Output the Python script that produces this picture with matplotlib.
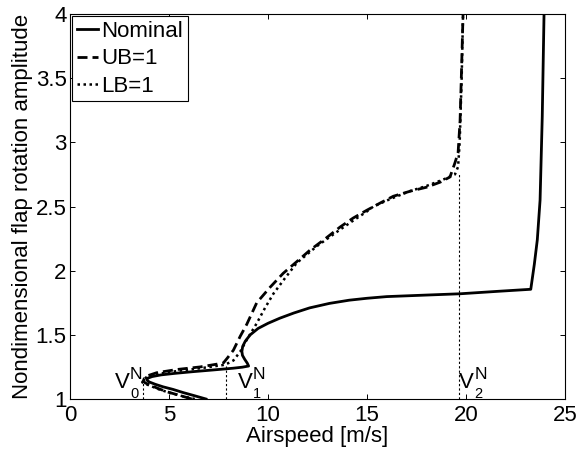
import matplotlib
matplotlib.use('Agg')
import matplotlib.pyplot as plt

plt.rcParams['font.family'] = ['Liberation Sans', 'DejaVu Sans']

# curves (x = airspeed, y = amplitude), traced along the branch
nominal_x = [6.87, 6.3, 5.72, 5.2, 4.7, 4.3, 4.0, 3.88, 3.92, 4.15, 4.6, 5.3, 6.2, 7.2, 8.24, 8.7,
             9.02, 8.95, 8.82, 8.71, 8.68, 8.72, 8.85, 9.1, 9.5, 10.0, 10.6, 11.3, 12.1, 13.1,
             14.1, 15.0, 16.0, 18.0, 19.7, 21.7, 23.27, 23.45, 23.6, 23.74, 23.85, 23.94]
nominal_y = [1.0, 1.025, 1.05, 1.075, 1.095, 1.115, 1.133, 1.148, 1.162, 1.175, 1.188, 1.2, 1.213,
             1.226, 1.24, 1.248, 1.257, 1.28, 1.31, 1.34, 1.37, 1.41, 1.45, 1.5, 1.55, 1.59, 1.63,
             1.67, 1.71, 1.745, 1.77, 1.785, 1.798, 1.81, 1.82, 1.84, 1.855, 2.05, 2.24, 2.55, 3.2,
             4.0]

ub_x = [6.15, 5.5, 4.88, 4.4, 4.04, 3.8, 3.7, 3.75, 3.95, 4.38, 5.4, 6.57, 7.74, 7.95, 8.25,
        8.6, 8.92, 9.43, 10.1, 10.77, 11.45, 12.12, 12.9, 13.64, 14.3, 14.98, 15.7, 16.33, 17.2,
        18.0, 18.7, 19.19, 19.44, 19.6, 19.7, 19.78, 19.85]
ub_y = [1.0, 1.03, 1.057, 1.085, 1.11, 1.125, 1.14, 1.16, 1.183, 1.205, 1.23, 1.25, 1.28, 1.32,
        1.38, 1.49, 1.58, 1.75, 1.87, 1.98, 2.07, 2.16, 2.25, 2.34, 2.41, 2.47, 2.53, 2.58, 2.62,
        2.65, 2.69, 2.73, 2.84, 2.92, 3.17, 3.6, 4.0]

lb_x = [6.3, 5.6, 5.0, 4.5, 4.1, 3.8, 3.65, 3.7, 3.9, 4.4, 5.5, 6.6, 7.74, 8.0, 8.25, 8.6, 8.92,
        9.43, 9.85, 10.27, 10.85, 11.45, 12.46, 13.64, 14.3, 14.98, 15.32, 16.2, 17.17, 18.0,
        18.85, 19.44, 19.6, 19.68, 19.78, 19.85]
lb_y = [1.0, 1.025, 1.05, 1.075, 1.10, 1.118, 1.13, 1.15, 1.175, 1.195, 1.22, 1.24, 1.265, 1.28,
        1.30, 1.37, 1.46, 1.59, 1.71, 1.82, 1.94, 2.06, 2.19, 2.32, 2.39, 2.46, 2.50, 2.56, 2.62,
        2.66, 2.71, 2.75, 2.81, 3.0, 3.5, 4.0]

# critical speeds and the amplitude where each marker line stops
v_speeds = [3.7, 7.86, 19.65]
v_tops = [1.135, 1.26, 2.75]
v_subs = ['0', '1', '2']
v_label_x = [2.27, 8.47, 19.66]

fs = 16
fig = plt.figure(figsize=(5.81, 4.5), dpi=100)
ax = fig.add_axes([0.1205, 0.1133, 0.852, 0.8556])

ax.plot(nominal_x, nominal_y, color='k', lw=2.0, label='Nominal')
ax.plot(ub_x, ub_y, color='k', lw=2.0, dashes=(3.6, 1.8), label='UB=1')
ax.plot(lb_x, lb_y, color='k', lw=1.8, dashes=(1.0, 1.4), label='LB=1')

for v, top, sub, lx in zip(v_speeds, v_tops, v_subs, v_label_x):
    ax.plot([v, v], [1.0, top], color='k', lw=0.8, dashes=(2, 2))
    ax.text(lx, 1.083, 'V', fontsize=fs, va='baseline', ha='left')
    ax.annotate('N', (lx, 1.083), xytext=(10.8, 6.7), textcoords='offset points',
                fontsize=12.5, va='baseline', ha='left')
    ax.annotate(sub, (lx, 1.083), xytext=(10.8, -7.0), textcoords='offset points',
                fontsize=10.5, va='baseline', ha='left')

ax.set_xlim(0, 25)
ax.set_ylim(1, 4)
ax.set_xticks([0, 5, 10, 15, 20, 25])
ax.set_yticks([1, 1.5, 2, 2.5, 3, 3.5, 4])
ax.set_yticklabels(['1', '1.5', '2', '2.5', '3', '3.5', '4'])
ax.tick_params(direction='in', top=True, right=True, length=3.6, width=0.7, labelsize=fs)
ax.tick_params(axis='x', pad=4)
ax.tick_params(axis='y', pad=2.5)
for s in ax.spines.values():
    s.set_linewidth(0.8)

ax.set_xlabel('Airspeed [m/s]', fontsize=fs, labelpad=0)
ax.set_ylabel('Nondimensional flap rotation amplitude', fontsize=fs, labelpad=2)

leg = ax.legend(loc='upper left', fontsize=fs, handlelength=0.93, handletextpad=0.15,
                labelspacing=0.28, borderpad=0.22, borderaxespad=0.1, fancybox=False,
                framealpha=1, edgecolor='k')
leg.get_frame().set_linewidth(0.8)

fig.savefig('out.png', dpi=100)
